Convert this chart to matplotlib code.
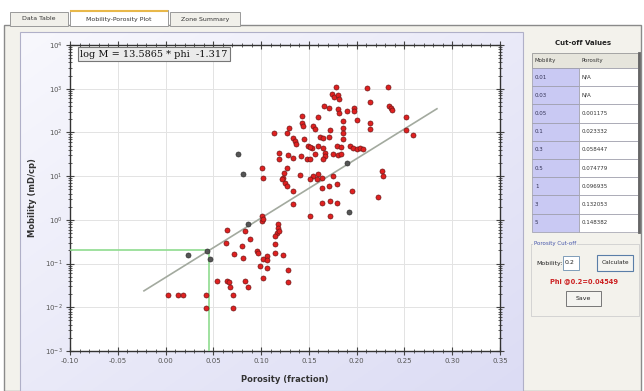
import numpy as np
import matplotlib
matplotlib.use("Agg")
import matplotlib.pyplot as plt
from matplotlib.patches import Rectangle
from matplotlib.ticker import MultipleLocator, LogLocator, NullFormatter, FixedLocator

# ---- data ----
# red samples: porosity (fraction) and log10 mobility (mD/cp)
phi_red = [0.102, 0.124, 0.123, 0.125, 0.127, 0.122, 0.133, 0.141, 0.154, 0.160,
           0.164, 0.158, 0.151, 0.175, 0.179, 0.171, 0.164, 0.195, 0.222, 0.133,
           0.164, 0.172, 0.179, 0.151, 0.172, 0.101, 0.101, 0.102, 0.064, 0.083,
           0.118, 0.118, 0.117, 0.115, 0.119, 0.088, 0.063, 0.080, 0.072, 0.081,
           0.096, 0.097, 0.115, 0.115, 0.123, 0.106, 0.102, 0.106, 0.099, 0.106,
           0.128, 0.128, 0.102, 0.054, 0.064, 0.066, 0.067, 0.083, 0.086, 0.003,
           0.013, 0.018, 0.042, 0.071, 0.042, 0.071,
           0.178, 0.211, 0.174, 0.176, 0.180, 0.182, 0.214, 0.166, 0.171, 0.180,
           0.182, 0.190, 0.197, 0.197, 0.186, 0.200, 0.214, 0.214, 0.143, 0.160,
           0.143, 0.144, 0.129, 0.127, 0.113, 0.154, 0.156, 0.172, 0.186, 0.186,
           0.133, 0.135, 0.145, 0.162, 0.165, 0.171, 0.186, 0.137, 0.149, 0.153,
           0.151, 0.160, 0.165, 0.179, 0.184, 0.193, 0.196, 0.200, 0.203, 0.207,
           0.119, 0.119, 0.128, 0.133, 0.142, 0.156, 0.167, 0.167, 0.175, 0.180,
           0.184, 0.148, 0.151, 0.165, 0.101, 0.127,
           0.233, 0.234, 0.236, 0.237, 0.252, 0.252, 0.259, 0.226, 0.228]
logm_red = [0.96, 1.074, 0.96, 0.846, 0.777, 0.937, 0.663, 1.029, 1.006, 1.051,
            0.96, 0.937, 0.937, 1.006, 0.823, 0.777, 0.731, 0.663, 0.526, 0.366,
            0.389, 0.434, 0.389, 0.091, 0.091, 0.091, -0.023, 0.023, -0.229, -0.251,
            -0.091, -0.183, -0.297, -0.366, -0.251, -0.434, -0.526, -0.594, -0.777, -0.869,
            -0.709, -0.754, -0.549, -0.754, -0.8, -0.823, -0.891, -0.914, -1.051, -1.097,
            -1.143, -1.417, -1.326, -1.394, -1.394, -1.417, -1.531, -1.394, -1.531, -1.714,
            -1.714, -1.714, -1.714, -1.714, -2.011, -2.011,
            3.04, 3.017, 2.88, 2.811, 2.857, 2.766, 2.697, 2.606, 2.56, 2.537,
            2.446, 2.491, 2.56, 2.491, 2.263, 2.286, 2.217, 2.08, 2.377, 2.354,
            2.217, 2.149, 2.103, 1.989, 1.989, 2.149, 2.08, 2.057, 2.103, 1.989,
            1.874, 1.806, 1.851, 1.897, 1.874, 1.897, 1.851, 1.737, 1.691, 1.646,
            1.669, 1.691, 1.646, 1.691, 1.669, 1.691, 1.646, 1.623, 1.646, 1.623,
            1.531, 1.394, 1.486, 1.417, 1.463, 1.509, 1.531, 1.463, 1.509, 1.486,
            1.509, 1.394, 1.394, 1.394, 1.189, 1.189,
            3.04, 2.606, 2.56, 2.514, 2.354, 2.057, 1.943, 1.12, 1.006]
# gray samples
phi_gray = [0.081, 0.192, 0.086, 0.043, 0.023, 0.046, 0.076, 0.190]
logm_gray = [1.058, 0.183, -0.091, -0.709, -0.8, -0.891, 1.509, 1.303]

# regression fit: log M = slope * phi + intercept
slope = 13.5865
intercept = -1.317
fit_phi_range = [-0.0226, 0.284]
cut_mobility = 0.2
cut_phi = 0.04549

# axis ticks
x_ticks = [-0.10, -0.05, 0.00, 0.05, 0.10, 0.15, 0.20, 0.25, 0.30, 0.35]
y_exps = [-3, -2, -1, 0, 1, 2, 3, 4]

# cut-off table
tbl_mob = ['0.01', '0.03', '0.05', '0.1', '0.3', '0.5', '1', '3', '5']
tbl_por = ['N/A', 'N/A', '0.001175', '0.023332', '0.058447', '0.074779',
           '0.096935', '0.132053', '0.148382']

# ---- figure ----
W, H = 644, 391
fig = plt.figure(figsize=(W / 100, H / 100), dpi=100)
fig.patch.set_facecolor('white')

ui = fig.add_axes([0, 0, 1, 1], zorder=0)
ui.set_xlim(0, W)
ui.set_ylim(H, 0)
ui.axis('off')

# window frame + tabs
ui.add_patch(Rectangle((4, 25), 637, 366, fc='#f3f2ec', ec='#8a8a8a', lw=1))
tabs = [("Data Table", 10, 58), ("Mobility-Porosity Plot", 70, 98), ("Zone Summary", 170, 70)]
for i, (name, x0, w) in enumerate(tabs):
    sel = (i == 1)
    ui.add_patch(Rectangle((x0, 10 if sel else 12), w, 16 if sel else 14,
                           fc='white' if sel else '#f1f0ea', ec='#9a9a9a', lw=0.7))
    if sel:
        ui.plot([x0 + 1, x0 + w - 1], [10.5, 10.5], color='#e8b84a', lw=1.5)
    ui.text(x0 + w / 2, 19, name, fontsize=4.5, ha='center', va='center', color='#333333')

# plot panel with soft lavender gradient
grad = np.linspace(0, 1, 256).reshape(1, -1) * 0.5 + np.linspace(0, 1, 256).reshape(-1, 1) * 0.5
ui.imshow(grad, extent=(20, 523, 391, 32), cmap=matplotlib.colors.LinearSegmentedColormap.from_list(
    'lav', ['#f8f8fd', '#dcdcf4']), aspect='auto', zorder=1)
ui.add_patch(Rectangle((20, 32), 503, 359, fc='none', ec='#b0b0c8', lw=0.8, zorder=2))

# ---- main plot ----
ax = fig.add_axes([70 / W, (H - 351) / H, 430 / W, 306 / H], zorder=2)
ax.set_facecolor('white')

ax.scatter(phi_red, np.power(10.0, logm_red), s=13, c='#e02020', edgecolors='#701818',
           linewidths=0.5, zorder=4)
ax.scatter(phi_gray, np.power(10.0, logm_gray), s=13, c='#555555', edgecolors='#333333',
           linewidths=0.5, zorder=4)

fx = np.array(fit_phi_range)
ax.plot(fx, 10 ** (slope * fx + intercept), color='#a3aa9f', lw=1.2, zorder=3)

ax.plot([-0.10, cut_phi], [cut_mobility, cut_mobility], color='#8fdc8f', lw=1.2, zorder=3)
ax.plot([cut_phi, cut_phi], [1e-3, cut_mobility], color='#8fdc8f', lw=1.2, zorder=3)

ax.set_xlim(-0.10, 0.35)
ax.set_yscale('log')
ax.set_ylim(1e-3, 1e4)
ax.xaxis.set_major_locator(FixedLocator(x_ticks))
ax.xaxis.set_minor_locator(MultipleLocator(0.01))
ax.set_xticklabels(['%.2f' % v for v in x_ticks])
ax.yaxis.set_major_locator(FixedLocator([10.0 ** e for e in y_exps]))
ax.yaxis.set_minor_locator(LogLocator(base=10, subs=np.arange(2, 10), numticks=20))
ax.yaxis.set_minor_formatter(NullFormatter())
ax.set_yticklabels([r'$10^{%d}$' % e for e in y_exps])

ax.grid(True, which='major', color='#e3e3e3', lw=0.7, zorder=0)
ax.set_axisbelow(True)
ax.tick_params(which='both', direction='inout', top=True, right=True, colors='#444444',
               labelsize=5, labelcolor='#555555', pad=2)
ax.tick_params(which='major', length=6, width=0.8)
ax.tick_params(which='minor', length=3, width=0.6)
for sp in ax.spines.values():
    sp.set_color('#333333')
    sp.set_linewidth(1.0)

ax.set_xlabel('Porosity (fraction)', fontsize=6, fontweight='bold', color='#333333', labelpad=8)
ax.set_ylabel('Mobility (mD/cp)', fontsize=6, fontweight='bold', color='#333333', labelpad=6)

ax.text(0.024, 0.985, 'log M = %.4f * phi  %.3f' % (slope, intercept), transform=ax.transAxes,
        fontsize=7, family='DejaVu Serif', va='top', ha='left', color='#111111', zorder=6,
        bbox=dict(boxstyle='square,pad=0.25', fc='#ebebeb', ec='#777777', lw=0.8))

# ---- right panel: cut-off table ----
ui.text(583, 43, 'Cut-off Values', fontsize=5, fontweight='bold', ha='center', va='center',
        color='#222222', zorder=3)
tx0, tx1, tx2 = 532, 579, 638
ty = 53
ui.add_patch(Rectangle((tx0, ty), tx2 - tx0, 15, fc='#e6e5dc', ec='#999999', lw=0.6, zorder=3))
ui.text(tx0 + 3, ty + 7.5, 'Mobility', fontsize=4, va='center', color='#333333', zorder=4)
ui.text(tx1 + 3, ty + 7.5, 'Porosity', fontsize=4, va='center', color='#333333', zorder=4)
row_h = 18.2
for i, (m, p) in enumerate(zip(tbl_mob, tbl_por)):
    y0 = ty + 15 + i * row_h
    ui.add_patch(Rectangle((tx0, y0), tx1 - tx0, row_h, fc='#c9c9f3', ec='#9a9aa8', lw=0.5, zorder=3))
    ui.add_patch(Rectangle((tx1, y0), tx2 - tx1, row_h, fc='white', ec='#9a9aa8', lw=0.5, zorder=3))
    ui.text(tx0 + 3, y0 + row_h / 2, m, fontsize=4, va='center', color='#333355', zorder=4)
    ui.text(tx1 + 3, y0 + row_h / 2, p, fontsize=4, va='center', color='#333333', zorder=4)
ui.plot([tx2 + 1.5, tx2 + 1.5], [ty, ty + 15 + 9 * row_h], color='#666666', lw=2, zorder=4)

# porosity cut-off group
ui.plot([531, 639, 639, 531, 531], [244, 244, 316, 316, 244], color='#cfcfcf', lw=0.6, zorder=3)
ui.text(534, 244, 'Porosity Cut-off', fontsize=4, va='center', color='#4455aa', zorder=4,
        bbox=dict(fc='#f3f2ec', ec='none', pad=0.5))
ui.text(536, 263, 'Mobility:', fontsize=4.5, va='center', color='#222222', zorder=4)
ui.add_patch(Rectangle((563, 256), 16, 14, fc='white', ec='#7f9db9', lw=0.7, zorder=3))
ui.text(565, 263, '0.2', fontsize=4.5, va='center', color='#222222', zorder=4)
ui.add_patch(Rectangle((597, 255), 36, 16, fc='#f4f4f0', ec='#5a7ea8', lw=0.8, zorder=3))
ui.text(615, 263, 'Calculate', fontsize=4.2, ha='center', va='center', color='#222222', zorder=4)
ui.text(584, 281, 'Phi @%g=%.5f' % (cut_mobility, cut_phi), fontsize=4.8, fontweight='bold',
        ha='center', va='center', color='#cc2222', zorder=4)
ui.add_patch(Rectangle((566, 291), 35, 15, fc='#f4f4f0', ec='#777777', lw=0.7, zorder=3))
ui.text(583.5, 298.5, 'Save', fontsize=4.5, ha='center', va='center', color='#222222', zorder=4)

fig.savefig('out.png', dpi=100)
